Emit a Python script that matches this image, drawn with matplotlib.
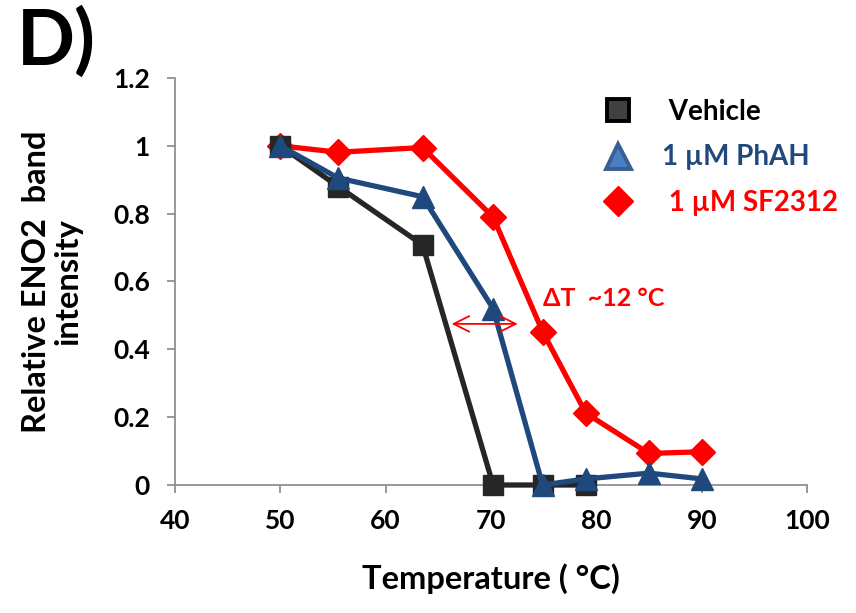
import matplotlib
matplotlib.use("Agg")
import matplotlib.pyplot as plt
from matplotlib.lines import Line2D

plt.rcParams['font.family'] = ['Lato', 'DejaVu Sans']
plt.rcParams['font.weight'] = 'bold'

# Heating temperatures (°C)
temps = [50, 55.5, 63.5, 70.2, 74.9, 79.0, 85.0, 90.0]

# Relative ENO2 band intensity per treatment
vehicle = [1.0, 0.88, 0.708, 0.0, 0.0, 0.0]
phah = [1.0, 0.905, 0.85, 0.52, 0.0, 0.018, 0.035, 0.018]
sf2312 = [1.0, 0.981, 0.995, 0.79, 0.452, 0.212, 0.093, 0.098]

labels = [" Vehicle", "1 \u00b5M PhAH", " 1 \u00b5M SF2312"]
xticks = [40, 50, 60, 70, 80, 90, 100]
yticks = [0, 0.2, 0.4, 0.6, 0.8, 1.0, 1.2]
ytick_labels = ["0", "0.2", "0.4", "0.6", "0.8", "1", "1.2"]

# Thermal shift annotation
shift_x = (66.0, 72.8)
shift_y = 0.475
shift_text = "\u0394T  ~12 \u00b0C"

black = "#262626"
blue = "#1f497d"
red = "#ff0000"

fig = plt.figure(figsize=(8.56, 6.13), dpi=100)
ax = fig.add_axes([0.2044, 0.2088, 0.7384, 0.664])

ax.plot(temps[:len(vehicle)], vehicle, color=black, lw=3.8, marker='s',
        ms=14, mfc=black, mec=black, zorder=3, clip_on=False)
ax.plot(temps, sf2312, color=red, lw=3.8, marker='D', ms=13,
        mfc=red, mec=red, zorder=2, clip_on=False)
ax.plot(temps, phah, color=blue, lw=3.8, marker='^', ms=16,
        mfc=blue, mec=blue, zorder=4, clip_on=False)

ax.annotate("", xy=(shift_x[0], shift_y), xytext=(shift_x[1], shift_y),
            arrowprops=dict(arrowstyle='<->', color=red, lw=1.3,
                            mutation_scale=28), zorder=5)
ax.text(74.9, 0.55, shift_text, color=red, fontsize=18, fontweight='bold',
        va='center', ha='left')

ax.set_xlim(40, 100)
ax.set_ylim(0, 1.2)
ax.set_xticks(xticks)
ax.set_yticks(yticks)
ax.set_yticklabels(ytick_labels)
ax.tick_params(axis='both', labelsize=19, direction='out', length=6,
               color='#888888', width=1.2)
ax.tick_params(axis='x', pad=11)
ax.tick_params(axis='y', pad=12)
for lab in ax.get_xticklabels() + ax.get_yticklabels():
    lab.set_fontweight('bold')
for s in ['top', 'right']:
    ax.spines[s].set_visible(False)
for s in ['left', 'bottom']:
    ax.spines[s].set_color('#888888')
    ax.spines[s].set_linewidth(1.2)

ax.set_xlabel("Temperature ( \u00b0C)", fontsize=23.5, fontweight='bold',
              labelpad=22)
ax.set_ylabel("Relative ENO2  band\nintensity", fontsize=23.5,
              fontweight='bold', labelpad=22, linespacing=1.1)

handles = [
    Line2D([], [], ls='none', marker='s', ms=16, mfc='#404040', mec='black', mew=2.8),
    Line2D([], [], ls='none', marker='^', ms=18, mfc='#4a7fc1', mec='#3a5f91', mew=2.8),
    Line2D([], [], ls='none', marker='D', ms=15, mfc=red, mec=red, mew=1),
]
leg = ax.legend(handles, labels, loc='upper left', bbox_to_anchor=(0.635, 1.01),
                frameon=False, fontsize=20, handletextpad=1.0,
                labelspacing=0.7, handlelength=1.2,
                labelcolor=['black', blue, red])
for t in leg.get_texts():
    t.set_fontweight('bold')

fig.text(0.02, 0.932, "D)", fontsize=55, fontweight='bold', va='center',
         ha='left')

fig.savefig("out.png", dpi=100)
